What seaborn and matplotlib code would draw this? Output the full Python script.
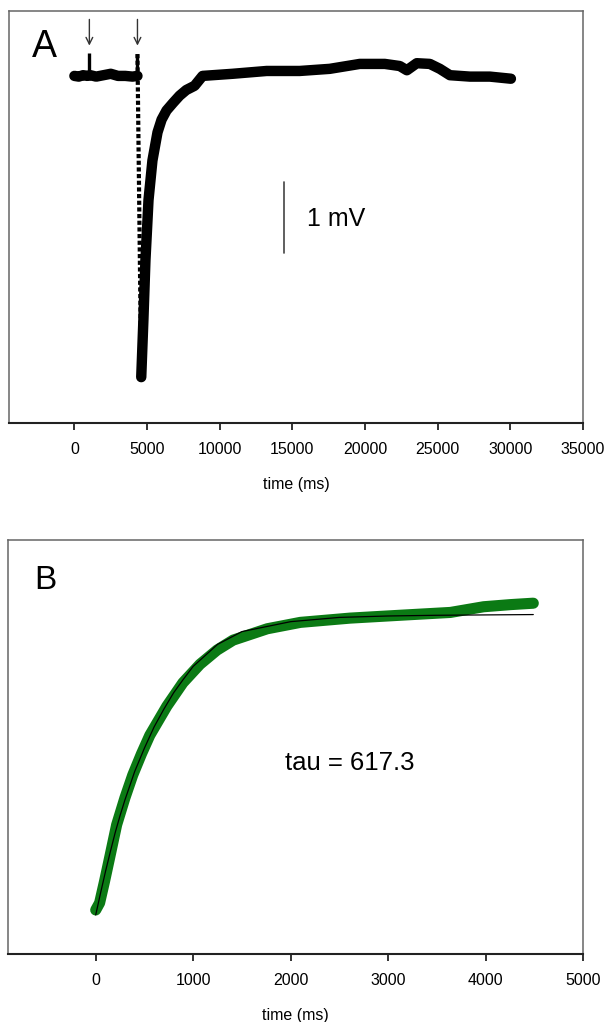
import numpy as np
import pandas as pd
import matplotlib
matplotlib.use("Agg")
import matplotlib.pyplot as plt
import seaborn as sns

# ---- panel A: membrane potential trace (mV, relative to baseline) ----
pre_t = [0, 300, 600, 900, 1100, 1500, 2000, 2500, 3000, 3500, 4000, 4340]
pre_v = [0.0, -0.01, 0.01, 0.0, 0.01, -0.01, 0.01, 0.03, 0.0, 0.0, -0.01, 0.0]

spike_t = [1030, 4340]
spike_top = [0.32, 0.31]

fall_t = [4340, 4600]
fall_v = [0.31, -4.27]

rec_t = [4600, 4750, 4890, 5100, 5370, 5720, 6000, 6340, 6800, 7240, 7700,
         8270, 8820, 10890, 13230, 15500, 17570, 19640, 21360, 22390, 22880,
         23560, 24460, 25150, 25840, 27220, 28590, 30040]
rec_v = [-4.27, -3.45, -2.61, -1.76, -1.20, -0.80, -0.62, -0.49, -0.38, -0.28,
         -0.20, -0.14, 0.0, 0.03, 0.07, 0.07, 0.10, 0.17, 0.17, 0.14, 0.08,
         0.18, 0.17, 0.10, 0.01, -0.01, -0.01, -0.04]

arrow_t = [1030, 4340]
stim_t = [2900, 9000]

# ---- panel B: recovery phase with exponential fit ----
b_t = [0, 40, 90, 145, 215, 300, 380, 470, 555, 730, 895, 1070, 1245, 1410,
       1760, 2100, 2610, 3120, 3640, 3810, 3980, 4255, 4490]
b_v = [-4.20, -4.10, -3.80, -3.45, -3.00, -2.62, -2.30, -2.00, -1.74, -1.33,
       -1.00, -0.74, -0.54, -0.40, -0.24, -0.15, -0.09, -0.05, -0.01, 0.03,
       0.07, 0.10, 0.12]

fit_t = [0, 50, 100, 150, 200, 250, 300, 400, 500, 600, 700, 800, 900, 1000,
         1250, 1500, 2000, 2500, 3000, 3500, 4490]
fit_v = [-4.27, -3.96, -3.66, -3.38, -3.11, -2.87, -2.65, -2.25, -1.92, -1.62,
         -1.37, -1.14, -0.95, -0.77, -0.46, -0.28, -0.14, -0.08, -0.06, -0.05,
         -0.04]

xticks_a = [0, 5000, 10000, 15000, 20000, 25000, 30000, 35000]
xticks_b = [0, 1000, 2000, 3000, 4000, 5000]

sns.set_theme(style="ticks")
plt.rcParams["font.family"] = ["Liberation Sans", "DejaVu Sans"]
plt.rcParams["text.color"] = "black"
plt.rcParams["axes.labelcolor"] = "black"
plt.rcParams["xtick.labelcolor"] = "black"

fig = plt.figure(figsize=(6.06, 10.22), dpi=100)
ax_a = fig.add_axes([9 / 606, 1 - 423 / 1022, 574 / 606, 412 / 1022])
ax_b = fig.add_axes([8 / 606, 1 - 954 / 1022, 575 / 606, 414 / 1022])


def style_axes(ax, ticks):
    for side in ["left", "top", "right"]:
        ax.spines[side].set_color("#666666")
        ax.spines[side].set_linewidth(1.1)
        ax.spines[side].set_visible(True)
    ax.spines["bottom"].set_color("#222222")
    ax.spines["bottom"].set_linewidth(1.5)
    ax.set_xticks(ticks)
    ax.set_xticklabels([str(t) for t in ticks])
    ax.set_yticks([])
    ax.tick_params(axis="x", direction="out", length=5, width=1.3,
                   color="#222222", labelsize=11.5, pad=9)
    ax.set_xlabel("time (ms)", fontsize=11.5, labelpad=14)
    ax.set_ylabel("")


# panel A
pre_df = pd.DataFrame({"t": pre_t, "v": pre_v})
rec_df = pd.DataFrame({"t": rec_t, "v": rec_v})
sns.lineplot(data=pre_df, x="t", y="v", ax=ax_a, color="black", lw=7.5,
             estimator=None, sort=False, solid_capstyle="round")
sns.lineplot(data=rec_df, x="t", y="v", ax=ax_a, color="black", lw=7.5,
             estimator=None, sort=False, solid_capstyle="round",
             solid_joinstyle="round")
ax_a.plot(fall_t, fall_v, color="black", lw=3, ls=(0, (1, 0.6)))
ax_a.vlines(spike_t, [0, 0], spike_top, color="black", lw=2.4)
for t in arrow_t:
    ax_a.annotate("", xy=(t, 0.39), xytext=(t, 0.84),
                  arrowprops=dict(arrowstyle="->", color="#333333", lw=1,
                                  mutation_scale=12))
ax_a.hlines(-4.915, stim_t[0], stim_t[1], color="#444444", lw=1.2)
ax_a.plot([14400, 14400], [-1.51, -2.51], color="#444444", lw=1.2)
ax_a.text(16000, -2.03, "1 mV", fontsize=18, va="center", ha="left")
ax_a.text(0.04, 0.912, "A", transform=ax_a.transAxes, fontsize=27,
          va="center", ha="left")
ax_a.set_xlim(-4500, 35000)
ax_a.set_ylim(-4.92, 0.92)
style_axes(ax_a, xticks_a)

# panel B
b_df = pd.DataFrame({"t": b_t, "v": b_v})
fit_df = pd.DataFrame({"t": fit_t, "v": fit_v})
sns.lineplot(data=b_df, x="t", y="v", ax=ax_b, color="#0b7a14", lw=8,
             estimator=None, sort=False, solid_capstyle="round",
             solid_joinstyle="round")
sns.lineplot(data=fit_df, x="t", y="v", ax=ax_b, color="black", lw=0.9,
             estimator=None, sort=False)
ax_b.text(2610, -2.13, "tau = 617.3", fontsize=18.5, va="center", ha="center")
ax_b.text(0.045, 0.903, "B", transform=ax_b.transAxes, fontsize=24,
          va="center", ha="left")
ax_b.set_xlim(-900, 5000)
ax_b.set_ylim(-4.82, 1.01)
style_axes(ax_b, xticks_b)

fig.savefig("out.png", dpi=100)
